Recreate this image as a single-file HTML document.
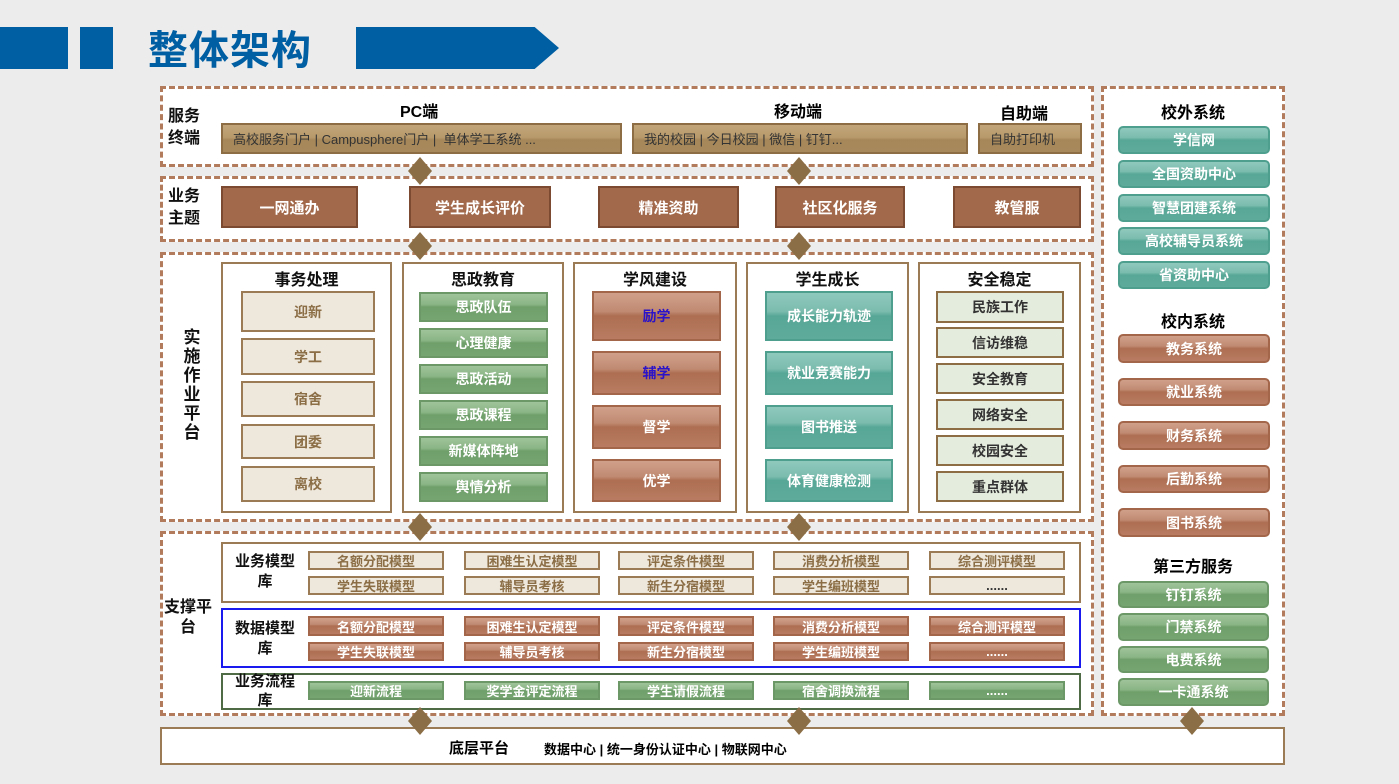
<!DOCTYPE html>
<html><head><meta charset="utf-8"><style>
*{margin:0;padding:0;box-sizing:border-box}
body{width:1399px;height:784px;background:#ececec;position:relative;overflow:hidden;font-family:"Liberation Sans","Noto Sans CJK SC",sans-serif;font-weight:bold}
.a{position:absolute}
.b{position:absolute;display:flex;align-items:center;justify-content:center;text-align:center;white-space:nowrap}
.d{position:absolute;border:3px dashed #b27c5c;background:#fff}
.gold{background:linear-gradient(#c2a679 0%,#b89a6c 45%,#a5875a 55%,#a8895c 100%);border:2px solid #8c6d44;color:#333;font-weight:normal;font-size:13px;justify-content:flex-start;padding-left:10px}
.topic{background:#a3694b;border:2px solid #7c4a30;color:#fff;font-size:15px}
.col{position:absolute;border:2px solid #9b7b55;background:#fff}
.ct{position:absolute;left:0;right:0;top:2px;text-align:center;font-size:16px;color:#111}
.beige{background:#eee7dc;border:2px solid #9b7b55;color:#8b6e45;font-size:14px}
.green{background:linear-gradient(#9fc39a 0%,#8ab585 40%,#6f9f6a 50%,#76a571 100%);border:2px solid #6b9866;color:#fff;font-size:14px}
.brown{background:linear-gradient(#d1a08a 0%,#c08a72 40%,#ad6e52 50%,#b97c62 100%);border:2px solid #a4664a;color:#fff;font-size:14px}
.teal{background:linear-gradient(#8fc9bd 0%,#7bbcae 40%,#57a797 50%,#5fab9b 100%);border:2px solid #4f9f8f;color:#fff;font-size:14px}
.lg{background:#e4ecdd;border:2px solid #8c6d44;color:#333;font-size:14px}
.r{border-radius:5px}
.lab{position:absolute;font-size:16px;color:#111;text-align:center;line-height:22px}
.dia{position:absolute;width:24px;height:28px;background:#8b6e45;clip-path:polygon(50% 0,100% 50%,50% 100%,0 50%)}
.s{font-size:13px}
</style></head><body>
<!-- header -->
<div class="a" style="left:0;top:27px;width:68px;height:42px;background:#005ea2"></div>
<div class="a" style="left:80px;top:27px;width:33px;height:42px;background:#005ea2"></div>
<div class="a" style="left:148px;top:18px;font-size:40px;color:#005ea2;font-weight:bold;letter-spacing:1px">整体架构</div>
<div class="a" style="left:356px;top:27px;width:203px;height:42px;background:#005ea2;clip-path:polygon(0 0,88% 0,100% 50%,88% 100%,0 100%)"></div>

<!-- service terminal -->
<div class="d" style="left:160px;top:86px;width:934px;height:81px"></div>
<div class="lab" style="left:168px;top:106px">服务<br>终端</div>
<div class="a" style="left:400px;top:98px;font-size:16px">PC端</div>
<div class="b gold" style="left:221px;top:123px;width:401px;height:31px">高校服务门户 | Campusphere门户 |&nbsp; 单体学工系统 ...</div>
<div class="a" style="left:774px;top:98px;font-size:16px">移动端</div>
<div class="b gold" style="left:632px;top:123px;width:336px;height:31px">我的校园 | 今日校园 | 微信 | 钉钉...</div>
<div class="a" style="left:1000px;top:100px;font-size:16px">自助端</div>
<div class="b gold" style="left:978px;top:123px;width:104px;height:31px">自助打印机</div>

<!-- topic -->
<div class="d" style="left:160px;top:176px;width:934px;height:66px"></div>
<div class="lab" style="left:168px;top:186px">业务<br>主题</div>
<div class="b topic" style="left:221px;top:186px;width:137px;height:42px">一网通办</div>
<div class="b topic" style="left:409px;top:186px;width:142px;height:42px">学生成长评价</div>
<div class="b topic" style="left:598px;top:186px;width:141px;height:42px">精准资助</div>
<div class="b topic" style="left:775px;top:186px;width:130px;height:42px">社区化服务</div>
<div class="b topic" style="left:953px;top:186px;width:128px;height:42px">教管服</div>

<!-- impl -->
<div class="d" style="left:160px;top:252px;width:934px;height:270px"></div>
<div class="lab" style="left:181px;top:328px;width:22px;font-size:17px;line-height:19px">实施作业平台</div>
<div class="col" style="left:221px;top:262px;width:171px;height:251px"><div class="ct">事务处理</div></div>
<div class="b beige" style="left:241px;top:291px;width:134px;height:41px">迎新</div>
<div class="b beige" style="left:241px;top:338px;width:134px;height:37px">学工</div>
<div class="b beige" style="left:241px;top:381px;width:134px;height:36px">宿舍</div>
<div class="b beige" style="left:241px;top:424px;width:134px;height:35px">团委</div>
<div class="b beige" style="left:241px;top:466px;width:134px;height:36px">离校</div>

<div class="col" style="left:402px;top:262px;width:162px;height:251px"><div class="ct">思政教育</div></div>
<div class="b green" style="left:419px;top:292px;width:129px;height:30px">思政队伍</div>
<div class="b green" style="left:419px;top:328px;width:129px;height:30px">心理健康</div>
<div class="b green" style="left:419px;top:364px;width:129px;height:30px">思政活动</div>
<div class="b green" style="left:419px;top:400px;width:129px;height:30px">思政课程</div>
<div class="b green" style="left:419px;top:436px;width:129px;height:30px">新媒体阵地</div>
<div class="b green" style="left:419px;top:472px;width:129px;height:30px">舆情分析</div>

<div class="col" style="left:573px;top:262px;width:164px;height:251px"><div class="ct">学风建设</div></div>
<div class="b brown" style="left:592px;top:291px;width:129px;height:50px;color:#2a13c8">励学</div>
<div class="b brown" style="left:592px;top:351px;width:129px;height:44px;color:#2a13c8">辅学</div>
<div class="b brown" style="left:592px;top:405px;width:129px;height:44px">督学</div>
<div class="b brown" style="left:592px;top:459px;width:129px;height:43px">优学</div>

<div class="col" style="left:746px;top:262px;width:163px;height:251px"><div class="ct">学生成长</div></div>
<div class="b teal" style="left:765px;top:291px;width:128px;height:50px">成长能力轨迹</div>
<div class="b teal" style="left:765px;top:351px;width:128px;height:44px">就业竞赛能力</div>
<div class="b teal" style="left:765px;top:405px;width:128px;height:44px">图书推送</div>
<div class="b teal" style="left:765px;top:459px;width:128px;height:43px">体育健康检测</div>

<div class="col" style="left:918px;top:262px;width:163px;height:251px"><div class="ct">安全稳定</div></div>
<div class="b lg" style="left:936px;top:291px;width:128px;height:32px">民族工作</div>
<div class="b lg" style="left:936px;top:327px;width:128px;height:31px">信访维稳</div>
<div class="b lg" style="left:936px;top:363px;width:128px;height:31px">安全教育</div>
<div class="b lg" style="left:936px;top:399px;width:128px;height:31px">网络安全</div>
<div class="b lg" style="left:936px;top:435px;width:128px;height:31px">校园安全</div>
<div class="b lg" style="left:936px;top:471px;width:128px;height:31px">重点群体</div>

<!-- support -->
<div class="d" style="left:160px;top:531px;width:934px;height:185px"></div>
<div class="lab" style="left:160px;top:598px;width:56px;line-height:20px">支撑平<br>台</div>
<div class="col" style="left:221px;top:542px;width:860px;height:61px"></div>
<div class="lab" style="left:228px;top:552px;width:74px;font-size:15px;line-height:20px">业务模型<br>库</div>
<div class="col" style="left:221px;top:608px;width:860px;height:60px;border:2px solid #1a1aee"></div>
<div class="lab" style="left:228px;top:619px;width:74px;font-size:15px;line-height:20px">数据模型<br>库</div>
<div class="col" style="left:221px;top:673px;width:860px;height:37px;border:2px solid #4f6b45"></div>
<div class="lab" style="left:228px;top:672px;width:74px;font-size:15px;line-height:19px">业务流程<br>库</div>

<div class="b beige s" style="left:308px;top:551px;width:136px;height:19px">名额分配模型</div>
<div class="b beige s" style="left:464px;top:551px;width:136px;height:19px">困难生认定模型</div>
<div class="b beige s" style="left:618px;top:551px;width:136px;height:19px">评定条件模型</div>
<div class="b beige s" style="left:773px;top:551px;width:136px;height:19px">消费分析模型</div>
<div class="b beige s" style="left:929px;top:551px;width:136px;height:19px">综合测评模型</div>
<div class="b beige s" style="left:308px;top:576px;width:136px;height:19px">学生失联模型</div>
<div class="b beige s" style="left:464px;top:576px;width:136px;height:19px">辅导员考核</div>
<div class="b beige s" style="left:618px;top:576px;width:136px;height:19px">新生分宿模型</div>
<div class="b beige s" style="left:773px;top:576px;width:136px;height:19px">学生编班模型</div>
<div class="b beige s" style="left:929px;top:576px;width:136px;height:19px;color:#333">......</div>

<div class="b brown s" style="left:308px;top:616px;width:136px;height:20px">名额分配模型</div>
<div class="b brown s" style="left:464px;top:616px;width:136px;height:20px">困难生认定模型</div>
<div class="b brown s" style="left:618px;top:616px;width:136px;height:20px">评定条件模型</div>
<div class="b brown s" style="left:773px;top:616px;width:136px;height:20px">消费分析模型</div>
<div class="b brown s" style="left:929px;top:616px;width:136px;height:20px">综合测评模型</div>
<div class="b brown s" style="left:308px;top:642px;width:136px;height:19px">学生失联模型</div>
<div class="b brown s" style="left:464px;top:642px;width:136px;height:19px">辅导员考核</div>
<div class="b brown s" style="left:618px;top:642px;width:136px;height:19px">新生分宿模型</div>
<div class="b brown s" style="left:773px;top:642px;width:136px;height:19px">学生编班模型</div>
<div class="b brown s" style="left:929px;top:642px;width:136px;height:19px">......</div>

<div class="b green s" style="left:308px;top:681px;width:136px;height:19px">迎新流程</div>
<div class="b green s" style="left:464px;top:681px;width:136px;height:19px">奖学金评定流程</div>
<div class="b green s" style="left:618px;top:681px;width:136px;height:19px">学生请假流程</div>
<div class="b green s" style="left:773px;top:681px;width:136px;height:19px">宿舍调换流程</div>
<div class="b green s" style="left:929px;top:681px;width:136px;height:19px">......</div>

<!-- right column -->
<div class="d" style="left:1101px;top:86px;width:184px;height:630px"></div>
<div class="a" style="left:1101px;width:184px;top:99px;text-align:center;font-size:16px">校外系统</div>
<div class="b teal r" style="left:1118px;top:126px;width:152px;height:28px">学信网</div>
<div class="b teal r" style="left:1118px;top:160px;width:152px;height:28px">全国资助中心</div>
<div class="b teal r" style="left:1118px;top:194px;width:152px;height:28px">智慧团建系统</div>
<div class="b teal r" style="left:1118px;top:227px;width:152px;height:28px">高校辅导员系统</div>
<div class="b teal r" style="left:1118px;top:261px;width:152px;height:28px">省资助中心</div>
<div class="a" style="left:1101px;width:184px;top:308px;text-align:center;font-size:16px">校内系统</div>
<div class="b brown r" style="left:1118px;top:334px;width:152px;height:29px">教务系统</div>
<div class="b brown r" style="left:1118px;top:378px;width:152px;height:28px">就业系统</div>
<div class="b brown r" style="left:1118px;top:421px;width:152px;height:29px">财务系统</div>
<div class="b brown r" style="left:1118px;top:465px;width:152px;height:28px">后勤系统</div>
<div class="b brown r" style="left:1118px;top:508px;width:152px;height:29px">图书系统</div>
<div class="a" style="left:1101px;width:184px;top:553px;text-align:center;font-size:16px">第三方服务</div>
<div class="b green r" style="left:1118px;top:581px;width:151px;height:27px">钉钉系统</div>
<div class="b green r" style="left:1118px;top:613px;width:151px;height:28px">门禁系统</div>
<div class="b green r" style="left:1118px;top:646px;width:151px;height:27px">电费系统</div>
<div class="b green r" style="left:1118px;top:678px;width:151px;height:28px">一卡通系统</div>

<!-- bottom -->
<div class="a" style="left:160px;top:727px;width:1125px;height:38px;background:#fff;border:2px solid #9b7b55"></div>
<div class="a" style="left:449px;top:737px;font-size:15px">底层平台</div>
<div class="a" style="left:544px;top:739px;font-size:13px">数据中心 | 统一身份认证中心 | 物联网中心</div>

<!-- diamonds -->
<div class="dia" style="left:408px;top:157px"></div>
<div class="dia" style="left:787px;top:157px"></div>
<div class="dia" style="left:408px;top:232px"></div>
<div class="dia" style="left:787px;top:232px"></div>
<div class="dia" style="left:408px;top:513px"></div>
<div class="dia" style="left:787px;top:513px"></div>
<div class="dia" style="left:408px;top:707px"></div>
<div class="dia" style="left:787px;top:707px"></div>
<div class="dia" style="left:1180px;top:707px"></div>
</body></html>
